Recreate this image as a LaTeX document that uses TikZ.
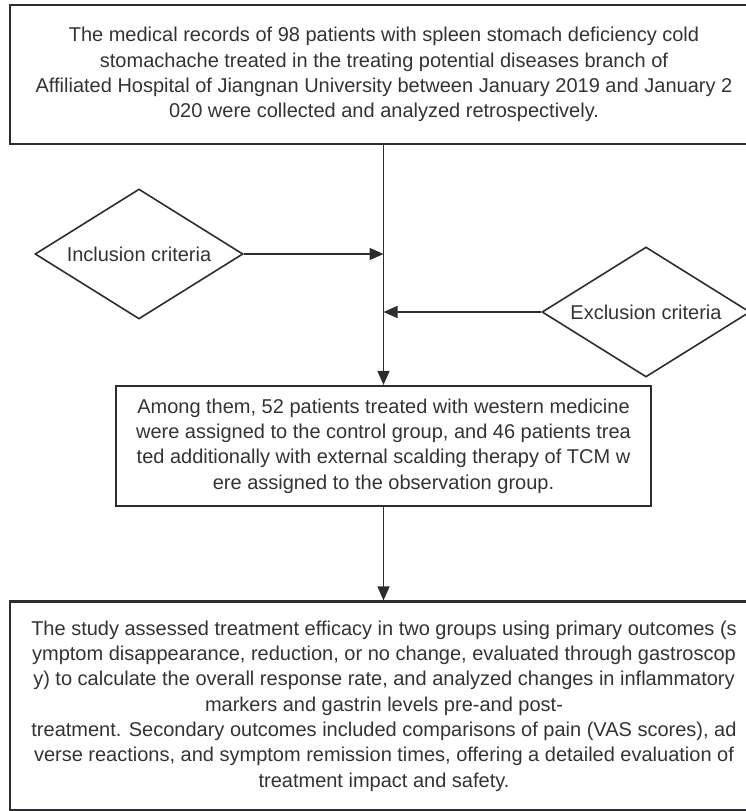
\documentclass[tikz,border=0pt]{standalone}
\usepackage{fontspec}
\setmainfont{Liberation Sans}
\usetikzlibrary{arrows.meta,positioning,shapes.geometric}
\definecolor{FlowInk}{HTML}{2B2D30}
\definecolor{FlowText}{HTML}{333333}

\begin{document}
\begin{tikzpicture}[x=1pt, y=-1pt,
  box/.style={draw=FlowInk, line width=2.2pt, align=center, inner sep=0pt,
    text=FlowText, font=\fontsize{20}{25.3}\selectfont},
  crit/.style={draw=FlowInk, line width=1.6pt, diamond, aspect=1.6, inner sep=0pt,
    minimum width=208pt, minimum height=130pt, text=FlowText,
    font=\fontsize{20}{24}\selectfont},
  flow/.style={draw=FlowInk, line width=1.6pt, -{Triangle[length=14pt,width=12pt]}}]
\useasboundingbox (0,0) rectangle (746,811);

% boxes
\node[box, minimum width=748pt, minimum height=139pt] (records) at (384,74.5)
  {The medical records of 98 patients with spleen stomach deficiency cold\\
   stomachache treated in the treating potential diseases branch of\\
   Affiliated Hospital of Jiangnan University between January 2019 and January 2\\
   020 were collected and analyzed retrospectively.};
\node[box, minimum width=535pt, minimum height=120pt] (group) at (383.5,446)
  {Among them, 52 patients treated with western medicine\\
   were assigned to the control group, and 46 patients trea\\
   ted additionally with external scalding therapy of TCM w\\
   ere assigned to the observation group.};
\node[box, minimum width=748pt, minimum height=209pt] (outcome) at (384,706)
  {The study assessed treatment efficacy in two groups using primary outcomes (s\\
   ymptom disappearance, reduction, or no change, evaluated through gastroscop\\
   y) to calculate the overall response rate, and analyzed changes in inflammatory\\
   markers and gastrin levels pre-and post-\\
   treatment. Secondary outcomes included comparisons of pain (VAS scores), ad\\
   verse reactions, and symptom remission times, offering a detailed evaluation of\\
   treatment impact and safety.};

% criteria
\node[crit] (incl) at (139,254) {Inclusion criteria};
\node[crit] (excl) at (646,312) {Exclusion criteria};

% connectors
\draw[flow] (group.north |- records.south) -- (group.north);
\draw[flow] (incl.east) -- (incl.east -| group.north);
\draw[flow] (excl.west) -- (excl.west -| group.north);
\draw[flow] (group.south) -- (group.south |- outcome.north);
\end{tikzpicture}
\end{document}
